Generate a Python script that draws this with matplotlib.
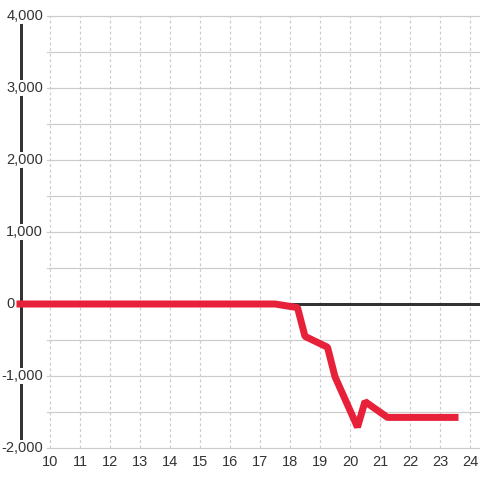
import matplotlib
matplotlib.use('Agg')
import matplotlib.pyplot as plt

plt.rcParams['font.family'] = ['Liberation Sans', 'DejaVu Sans']

# data
hours = [9.0, 17.5, 18.25, 18.5, 19.25, 19.5, 20.25, 20.5, 21.25, 23.5]
values = [0, 0, -50, -450, -600, -1010, -1710, -1355, -1575, -1575]
x_ticks = [10, 11, 12, 13, 14, 15, 16, 17, 18, 19, 20, 21, 22, 23, 24]
y_ticks = [-2000, -1000, 0, 1000, 2000, 3000, 4000]
y_labels = ['-2,000', '-1,000', '0', '1,000', '2,000', '3,000', '4,000']

W = 480.0
px = 0.72  # 1 px in points at dpi 100

fig = plt.figure(figsize=(4.8, 4.8), dpi=100)
ax_left, ax_right, ax_top, ax_bottom = 16, 480, 16, 448
ax = fig.add_axes([ax_left / W, 1 - ax_bottom / W, (ax_right - ax_left) / W, (ax_bottom - ax_top) / W])

# 30 px per hour, hour 10 at x=50
xmin = 10 - (50 - ax_left) / 30.0
xmax = 10 + (ax_right - 50) / 30.0
ax.set_xlim(xmin, xmax)
ax.set_ylim(-2000, 4000)
for s in ax.spines.values():
    s.set_visible(False)
ax.set_yticks([])
ax.set_xticks([])

grid_c = '#cccccc'
dark = '#333333'
red = '#e8213a'

# horizontal grid every 500
for yv in range(-2000, 4001, 500):
    ax.plot([9.9, xmax], [yv, yv], color=grid_c, lw=1.2 * px, zorder=1, clip_on=False)
# vertical dashed grid
for xv in x_ticks:
    ax.plot([xv, xv], [-2000, 4000], color=grid_c, lw=1.2 * px, dashes=(2.4, 2.2), zorder=1)

axis_x = 10 - 29.5 / 30.0
ax.plot([axis_x, axis_x], [-2000, 4000], color=dark, lw=3 * px, zorder=2, solid_capstyle='butt')
ax.plot([axis_x, xmax], [0, 0], color=dark, lw=3 * px, zorder=2, solid_capstyle='butt')

ax.plot(hours, values, color=red, lw=7 * px, zorder=4, solid_capstyle='projecting',
        solid_joinstyle='bevel', clip_on=False)

# y labels
for yv, lab in zip(y_ticks, y_labels):
    if yv == 0:
        xp = 10 - 35 / 30.0
    else:
        xp = 10 - 7 / 30.0
    ax.text(xp, yv, lab, ha='right', va='center', fontsize=10.5, color=dark, zorder=3,
            bbox=dict(facecolor='white', edgecolor='none', pad=1.0))

# x labels
for xv in x_ticks:
    ax.text(xv, -2000 - 13.5 * 6000 / 432.0, str(xv), ha='center', va='center',
            fontsize=10.5, color=dark, clip_on=False)

fig.savefig('out.png', dpi=100, facecolor='white')
